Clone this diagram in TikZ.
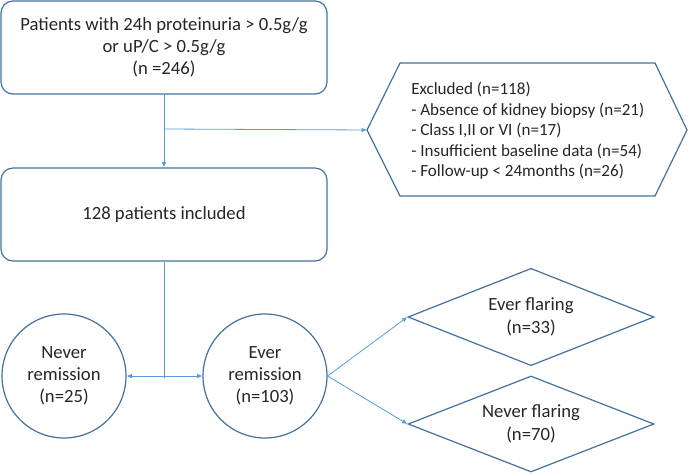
\documentclass[tikz,border=0pt]{standalone}
\usepackage{fontspec}
\setmainfont{Carlito}
\usetikzlibrary{shapes.geometric,arrows.meta}
\definecolor{outl}{HTML}{41719C}
\definecolor{conn}{HTML}{5B9BD5}
\definecolor{txt}{HTML}{262626}
\begin{document}
\begin{tikzpicture}[x=0.75pt,y=-0.75pt,
  every node/.style={text=txt},
  box/.style={draw=outl, line width=0.9pt, rounded corners=9pt, minimum width=244.5pt, minimum height=69.75pt, align=center, font=\fontsize{14}{16.5}\selectfont, inner sep=0pt},
  circ/.style={draw=outl, line width=0.9pt, circle, minimum size=93pt, align=center, font=\fontsize{14}{16.5}\selectfont, inner sep=0pt},
  dia/.style={draw=outl, line width=0.9pt, diamond, minimum width=184.5pt, minimum height=73pt, aspect=2.5, align=center, font=\fontsize{14}{17}\selectfont, inner sep=0pt},
  arr/.style={draw=conn, line width=0.6pt, -{Latex[length=4pt,width=3.5pt]}},
  ln/.style={draw=conn, line width=0.6pt}
]
\useasboundingbox (0,0) rectangle (688,474);

\node[box] (top) at (164,47.5) {\raisebox{-3pt}{\parbox{240pt}{\centering Patients with 24h proteinuria {>} 0.5g/g\\or uP/C {>} 0.5g/g\\(n =246)}}};
\node[box] (mid) at (164,214.5) {128 patients included};

% hexagon
\draw[outl, line width=0.9pt] (367,130) -- (400,63) -- (655,63) -- (687,130) -- (655,196) -- (400,196) -- cycle;
\coordinate (exclL) at (367,130);
\node[anchor=west, align=left, font=\fontsize{12.8}{15.4}\selectfont, inner sep=0pt] (excl) at (411,131)
 {Excluded (n=118)\\- Absence of kidney biopsy (n=21)\\- Class I,II or VI (n=17)\\- Insufficient baseline data (n=54)\\- Follow-up {<} 24months (n=26)};

\node[circ] (nr) at (64,376) {Never\\remission\\(n=25)};
\node[circ] (er) at (265,376) {Ever\\remission\\(n=103)};

\node[dia] (d1) at (531,317) {Ever flaring\\(n=33)};
\node[dia, minimum height=72pt] (d2) at (531,424) {Never flaring\\(n=70)};

\coordinate (br) at (164,129);
\coordinate (j) at (164,376);
\coordinate (jb) at (164,378);

\draw[arr] (top.south) -- (mid.north);
\draw[arr] (br) -- (exclL);
\draw[ln] (mid.south) -- (jb);
\draw[arr] (j) -- (nr.east);
\draw[arr] (j) -- (er.west);
\draw[arr] (er.east) -- (d1.west);
\draw[arr] (er.east) -- (d2.west);
\end{tikzpicture}
\end{document}
